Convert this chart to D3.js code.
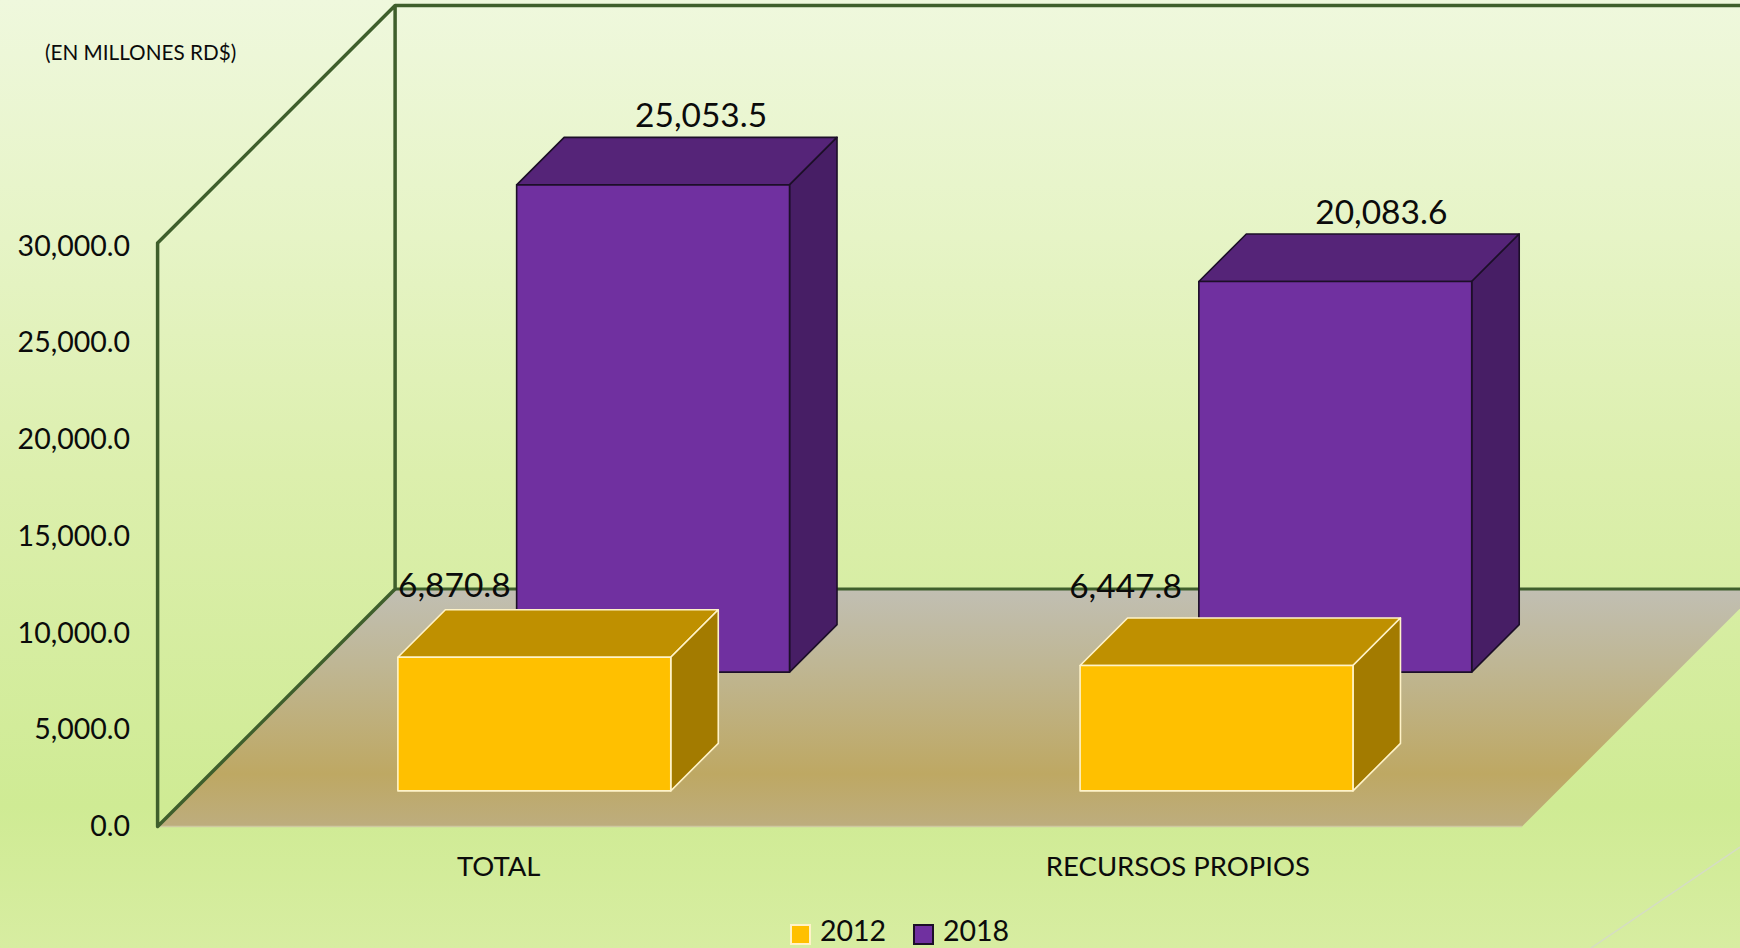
<!DOCTYPE html>
<html><head><meta charset="utf-8">
<script src="https://cdn.jsdelivr.net/npm/d3@7/dist/d3.min.js"></script>
<style>html,body{margin:0;padding:0;overflow:hidden;background:#d6ec9f}svg{display:block}text{font-family:Lato,"Open Sans",sans-serif;fill:#0b0b0b}</style>
</head><body>
<script>
const categories = ["TOTAL", "RECURSOS PROPIOS"];
const seriesNames = ["2012", "2018"];
const values2012 = [6870.8, 6447.8];
const values2018 = [25053.5, 20083.6];
const yTicks = [0, 5000, 10000, 15000, 20000, 25000, 30000];
const unitLabel = "(EN MILLONES RD$)";

const W = 1740, H = 948;
const X0 = 157.6, X1 = 1522, Y0 = 826.5, Y1 = 243, DEPTH = 237.5;
const svg = d3.select("body").append("svg").attr("width", W).attr("height", H);
const defs = svg.append("defs");
function grad(id, stops) {
  const g = defs.append("linearGradient").attr("id", id).attr("x1",0).attr("y1",0).attr("x2",0).attr("y2",1);
  stops.forEach(([o,c]) => g.append("stop").attr("offset",o).attr("stop-color",c));
}
grad("bg", [[0,"#eff8dd"],[0.25,"#e6f4c6"],[0.5,"#dcefad"],[0.85,"#cfeb94"],[1,"#d7eda1"]]);
grad("floor", [[0,"#c1bfb3"],[0.3,"#bfb796"],[0.78,"#bea863"],[1,"#bdad7e"]]);
svg.append("rect").attr("width",W).attr("height",H).attr("fill","url(#bg)");

const y = d3.scaleLinear().domain([0,30000]).range([Y0,Y1]);
const x = d3.scaleBand().domain(categories).range([X0,X1]).paddingInner(0.6).paddingOuter(0.3);
const z = d3.scaleBand().domain(seriesNames).range([0,DEPTH]).paddingInner(0.6).paddingOuter(0.3);
const tickY = d3.scaleLinear().domain([0,30000]).range([Y0,246]);
const line = d3.line();

// floor
svg.append("path").attr("d", line([[X0,Y0],[X1,Y0],[X1+DEPTH,Y0-DEPTH],[X0+DEPTH,Y0-DEPTH]])+"Z").attr("fill","url(#floor)");
svg.append("path").attr("d", line([[X0,Y0],[X1,Y0]])).attr("stroke","#cfc9a0").attr("stroke-width",1.5);
// walls
const wallColor = "#3f5f2c";
svg.append("path").attr("d", line([[X0+DEPTH,Y0-DEPTH],[W+5,Y0-DEPTH]])).attr("fill","none").attr("stroke",wallColor).attr("stroke-width",3);
svg.append("path").attr("d", line([[W+5,Y1-DEPTH],[X0+DEPTH,Y1-DEPTH],[X0+DEPTH,Y0-DEPTH],[X0,Y0],[X0,Y1],[X0+DEPTH,Y1-DEPTH]]))
  .attr("fill","none").attr("stroke",wallColor).attr("stroke-width",3.5).attr("stroke-linejoin","round");
// faint chart-edge line at lower right
svg.append("path").attr("d", line([[W,847],[1591,H]])).attr("stroke","#d5dcc4").attr("stroke-width",1.5);

const styles = {
  "2012": {front:"#ffc000", top:"#bf9000", side:"#a37b00", stroke:"#fff3c8"},
  "2018": {front:"#7030a0", top:"#552478", side:"#471e65", stroke:"#1c0f28"}
};
const rows = seriesNames.map((s,i) => ({s, vals: i===0 ? values2012 : values2018}));
function bar(g, s, cat, v) {
  const st = styles[s], d = z.bandwidth();
  const off = z(s), l = x(cat)+off, r = l+x.bandwidth(), b = Y0-off, t = Y0-off-(Y0-y(v));
  const face = (pts, fill) => g.append("path").attr("d", line(pts)+"Z").attr("fill",fill)
    .attr("stroke",st.stroke).attr("stroke-width",1.6).attr("stroke-linejoin","round");
  face([[l,t],[l+d,t-d],[r+d,t-d],[r,t]], st.top);
  face([[r,t],[r+d,t-d],[r+d,b-d],[r,b]], st.side);
  face([[l,t],[r,t],[r,b],[l,b]], st.front);
}
[...rows].reverse().forEach(row => {
  const g = svg.append("g").attr("class","series");
  categories.forEach((c,i) => bar(g,row.s,c,row.vals[i]));
});

// data labels
const labelFmt = d3.format(",.1f");
const labelShift = {"2018":[[48,-22],[46,-22]], "2012":[[-80,-24],[-91,-32]]};
rows.forEach(row => categories.forEach((c,i) => {
  const off = z(row.s), d = z.bandwidth();
  const cx = x(c)+off+x.bandwidth()/2, top = y(row.vals[i])-off-d;
  const [dx,dy] = labelShift[row.s][i];
  svg.append("text").attr("x",cx+dx).attr("y",top+dy).attr("dy","0.35em").attr("text-anchor","middle")
    .attr("font-size",33.5).text(labelFmt(row.vals[i]));
}));

// value axis
const axis = d3.axisLeft(tickY).tickValues(yTicks).tickFormat(d3.format(",.1f")).tickSize(0).tickPadding(0);
const ag = svg.append("g").attr("transform","translate(130,0)").call(axis);
ag.select(".domain").remove();
ag.selectAll("text").attr("font-size",28.5).style("font-family",'Lato,"Open Sans",sans-serif').attr("fill","#0b0b0b");

// category axis
const catY = 866;
svg.selectAll(".cat").data(categories).join("text").attr("class","cat")
  .attr("x",(c,i) => x(c)+x.bandwidth()/2 - (i===1 ? 3 : 0))
  .attr("y",catY).attr("dy","0.35em").attr("text-anchor","middle").attr("font-size",27.5).text(c=>c);

svg.append("text").attr("x",45).attr("y",53).attr("dy","0.35em").attr("font-size",20.7).text(unitLabel);

// legend
const legX = [790, 913];
seriesNames.forEach((s,i) => {
  svg.append("rect").attr("x",legX[i]+1).attr("y",925).attr("width",19).attr("height",19)
    .attr("fill",styles[s].front).attr("stroke",styles[s].stroke).attr("stroke-width",2);
  svg.append("text").attr("x",legX[i]+30).attr("y",941).attr("font-size",28.5).text(s);
});
</script>
</body></html>
